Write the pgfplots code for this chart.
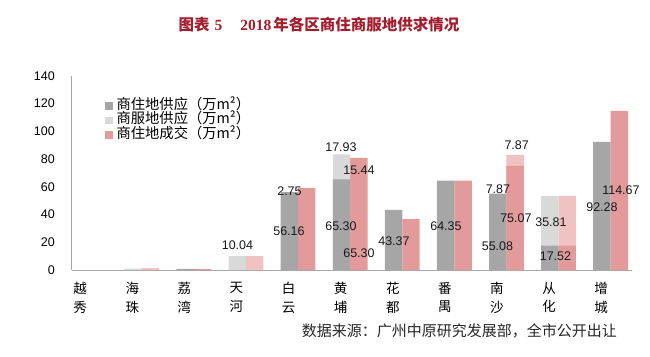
\documentclass[border=0pt]{standalone}
\usepackage{fontspec}
\setmainfont{Liberation Sans}
\newfontfamily\cjk{Noto Sans CJK SC}
\newfontfamily\serif{Liberation Serif}
\usepackage{pgfplots}
\pgfplotsset{compat=1.18}
\definecolor{cG}{HTML}{A6A6A6}
\definecolor{cLG}{HTML}{D9D9D9}
\definecolor{cP}{HTML}{E39A9A}
\definecolor{cLP}{HTML}{F0C2C2}
\definecolor{cTitle}{RGB}{163,29,45}
\tikzset{vl/.style={font=\fontsize{12.5}{14}\selectfont, inner sep=0pt, text=black!90}}
\begin{document}
\begin{tikzpicture}
\path[use as bounding box] (0,0) rectangle (650pt,356pt);
\node[font=\bfseries\fontsize{15.5}{16}\selectfont, text=cTitle, inner sep=0pt] at (319pt,331pt)
  {{\cjk 图表}\hspace{5pt}{\serif 5}\hspace{18pt}{\serif 2018}\hspace{2pt}{\cjk 年各区商住商服地供求情况}};
\node[font=\cjk\fontsize{15}{16}\selectfont, text=black!85, inner sep=0pt, anchor=east] at (617pt,25pt)
  {数据来源：广州中原研究发展部，全市公开出让};
\begin{axis}[
  at={(71.7pt,86pt)}, anchor=south west,
  scale only axis, width=560.3pt, height=194.3pt,
  xmin=-0.345, xmax=10.41, ymin=0, ymax=140,
  clip=false,
  axis x line*=bottom, axis y line*=left,
  axis line style={draw=black!35, line width=0.8pt, -},
  major tick length=0pt,
  xtick={0,...,10},
  xticklabels={{越\\秀},{海\\珠},{荔\\湾},{天\\河},{白\\云},{黄\\埔},{花\\都},{番\\禺},{南\\沙},{从\\化},{增\\城}},
  xticklabel style={font=\cjk\fontsize{13.5}{18.5}\selectfont, align=center, inner sep=0pt, anchor=north, xshift=-9.5pt, yshift=-12pt},
  ytick={0,20,...,140},
  yticklabel style={font=\fontsize{12.5}{14}\selectfont, inner sep=0pt, anchor=east, xshift=-16.7pt},
  /pgf/number format/assume math mode=true,
  legend cell align=left,
  legend style={at={(0.0594,0.88)}, anchor=north west, draw=none, fill=none, inner sep=0pt,
    font=\cjk\fontsize{14.3}{14}\selectfont, row sep=1.5pt, column sep=4.3pt,
    nodes={inner sep=0pt, text height=10pt, text depth=3pt}},
]
\addlegendimage{legend image code/.code={\fill[cG] (0pt,-3.35pt) rectangle (6.7pt,3.35pt);}}
\addlegendentry{商住地供应（万m²）}
\addlegendimage{legend image code/.code={\fill[cLG] (0pt,-3.35pt) rectangle (6.7pt,3.35pt);}}
\addlegendentry{商服地供应（万m²）}
\addlegendimage{legend image code/.code={\fill[cP] (0pt,-3.35pt) rectangle (6.7pt,3.35pt);}}
\addlegendentry{商住地成交（万m²）}
% light pink totals (commercial-service transaction stacked on top)
\addplot[ybar, bar width=17.4pt, bar shift=8.7pt, fill=cLP, draw=none, forget plot]
  coordinates {(1,1.3) (3,10.04) (8,82.94) (9,53.33)};
% pink: residential-commercial transaction
\addplot[ybar, bar width=17.4pt, bar shift=8.7pt, fill=cP, draw=none, forget plot]
  coordinates {(2,0.6) (4,58.91) (5,80.74) (6,36.7) (7,64.35) (8,75.07) (9,17.52) (10,114.67)};
% light gray totals (commercial-service supply stacked on top)
\addplot[ybar, bar width=17.4pt, bar shift=-8.7pt, fill=cLG, draw=none, forget plot]
  coordinates {(1,1.0) (3,10.04) (5,83.23) (9,53.33)};
% gray: residential-commercial supply
\addplot[ybar, bar width=17.4pt, bar shift=-8.7pt, fill=cG, draw=none, forget plot]
  coordinates {(2,0.8) (4,56.16) (5,65.30) (6,43.37) (7,64.35) (8,55.08) (9,17.52) (10,92.28)};
\node[vl] at (axis cs:2.837,18.0) {10.04};
\node[vl] at (axis cs:3.835,57.1) {2.75};
\node[vl] at (axis cs:3.825,27.6) {56.16};
\node[vl] at (axis cs:4.823,88.4) {17.93};
\node[vl] at (axis cs:5.169,72.0) {15.44};
\node[vl] at (axis cs:4.823,31.9) {65.30};
\node[vl] at (axis cs:5.169,12.0) {65.30};
\node[vl] at (axis cs:5.841,21.1) {43.37};
\node[vl] at (axis cs:6.839,31.9) {64.35};
\node[vl] at (axis cs:8.196,89.6) {7.87};
\node[vl] at (axis cs:7.837,58.4) {7.87};
\node[vl] at (axis cs:8.182,37.2) {75.07};
\node[vl] at (axis cs:7.827,16.8) {55.08};
\node[vl] at (axis cs:8.854,34.4) {35.81};
\node[vl] at (axis cs:8.941,9.6) {17.52};
\node[vl] at (axis cs:10.198,57.6) {114.67};
\node[vl] at (axis cs:9.833,45.6) {92.28};
\end{axis}
\end{tikzpicture}
\end{document}
